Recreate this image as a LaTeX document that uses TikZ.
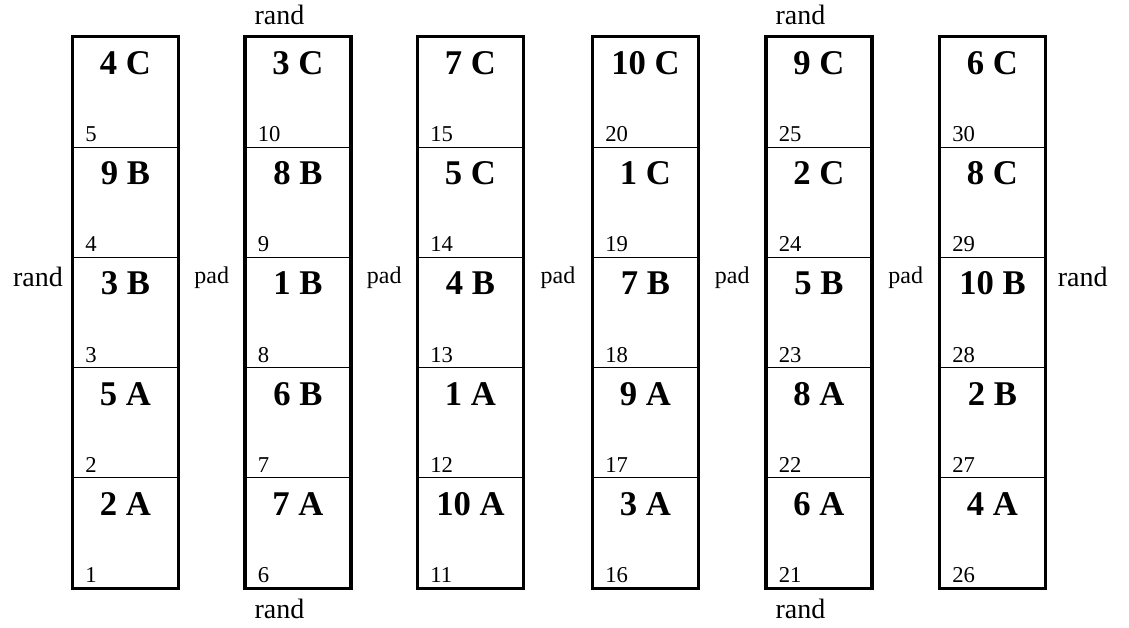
\documentclass[tikz,border=0pt]{standalone}
\usepackage{fontspec}
\setmainfont{Liberation Serif}
\usetikzlibrary{positioning,calc}

\tikzset{
  cell/.style={draw, line width=0.8pt, rectangle, minimum width=78.75pt, minimum height=82.65pt, inner sep=0pt},
  frame/.style={line width=2.9pt},
  tag/.style={inner sep=0pt, font=\fontsize{26}{28}\selectfont\bfseries},
  slotnum/.style={inner sep=0pt, font=\fontsize{17}{19}\selectfont},
  side/.style={inner sep=0pt, font=\fontsize{21}{23}\selectfont},
  padlbl/.style={inner sep=0pt, font=\fontsize{18}{20}\selectfont}
}

\begin{document}
\begin{tikzpicture}[x=0.75pt,y=0.75pt,yscale=-1,xscale=1]
\useasboundingbox (0,0) rectangle (1129,628);
% columns, contents listed from bottom to top
\foreach \c/\cx/\items in {1/125.5/{2 A,5 A,3 B,9 B,4 C},2/298/{7 A,6 B,1 B,8 B,3 C},3/470.5/{10 A,1 A,4 B,5 C,7 C},4/645.5/{3 A,9 A,7 B,1 C,10 C},5/819/{6 A,8 A,5 B,2 C,9 C},6/992.5/{4 A,2 B,10 B,8 C,6 C}}
{
  \foreach \t [count=\r] in \items {
    \pgfmathtruncatemacro\num{(\c-1)*5+\r}
    \node[cell] (c\num) at (\cx,{588-(\r-0.5)*110.2}) {};
    \node[tag, anchor=base] (t\num) at ([yshift=28.5pt]c\num.north) {\t};
    \node[slotnum, anchor=base west] (n\num) at ([xshift=9.5pt,yshift=-4.5pt]c\num.south west) {\num};
  }
  \pgfmathtruncatemacro\first{(\c-1)*5+1}
  \pgfmathtruncatemacro\last{\c*5}
  \draw[frame] (c\first.south west) rectangle (c\last.north east);
}

% labels round the columns
\node[side, anchor=base east] (randL) at ([xshift=-7pt,yshift=22pt]c3.north west) {rand};
\node[side, anchor=base west] (randR) at ([xshift=9pt,yshift=22pt]c28.north east) {rand};
\foreach \a/\b in {3/8,8/13,13/18,18/23,23/28}
  \node[padlbl, anchor=base] (pad\a) at ([yshift=20pt]$(c\a.north east)!0.5!(c\b.north west)$) {pad};
\node[side, anchor=base west] (randT1) at ([xshift=7pt,yshift=-9pt]c10.north west) {rand};
\node[side, anchor=base west] (randT2) at ([xshift=7pt,yshift=-9pt]c25.north west) {rand};
\node[side, anchor=base west] (randB1) at ([xshift=7pt,yshift=22.5pt]c6.south west) {rand};
\node[side, anchor=base west] (randB2) at ([xshift=7pt,yshift=22.5pt]c21.south west) {rand};
\end{tikzpicture}
\end{document}
